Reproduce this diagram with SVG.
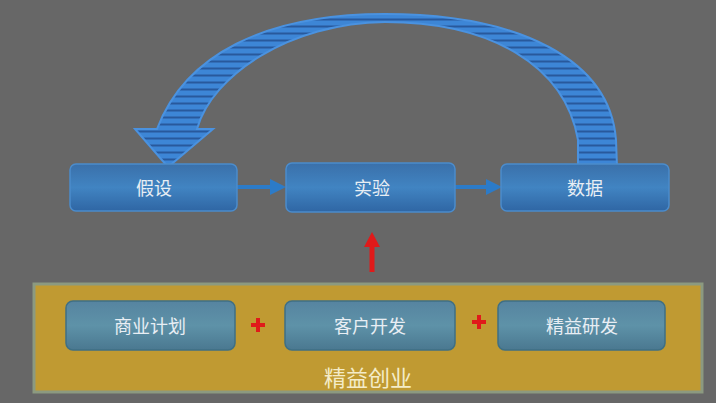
<svg xmlns="http://www.w3.org/2000/svg" width="716" height="403" viewBox="0 0 716 403">
<defs>
<style>
.t{font-family:"Noto Sans CJK SC","Noto Sans",sans-serif;font-size:18px;fill:#e8eef4;text-anchor:middle;dominant-baseline:central}
.top{fill:url(#gTop);stroke:#4b8ccc;stroke-width:1.5}
.bot{fill:url(#gBot);stroke:#3f6f84;stroke-width:1.5}
.plus{stroke:#e01a1a;stroke-width:4;fill:none}
.conn{stroke:#2c7bc8;stroke-width:4;fill:none}
</style>
<linearGradient id="gTop" x1="0" y1="0" x2="0" y2="1">
<stop offset="0" stop-color="#3a70aa"/>
<stop offset="0.5" stop-color="#4184c2"/>
<stop offset="1" stop-color="#2f66a4"/>
</linearGradient>
<linearGradient id="gBot" x1="0" y1="0" x2="0" y2="1">
<stop offset="0" stop-color="#5684a0"/>
<stop offset="0.5" stop-color="#5e92a8"/>
<stop offset="1" stop-color="#4a7890"/>
</linearGradient>
<pattern id="stripes" width="8" height="7" patternUnits="userSpaceOnUse">
<rect width="8" height="7" fill="#3d86d6"/>
<rect y="4.5" width="8" height="2" fill="#28599c"/>
</pattern>
<marker id="ah" markerWidth="4" markerHeight="4" refX="2" refY="2" orient="auto" markerUnits="strokeWidth">
<path d="M0,0 L4,2 L0,4 Z" fill="#2c7bc8"/>
</marker>
</defs>
<rect width="716" height="403" fill="#676767"/>

<g id="connectors">
<path id="loop" d="M617 167 L616 140 C610 60 520 14 385 14 C265 14 185 55 157 129 L135 129 L168 167 L213 129 L197 129 C212 75 290 23 385 22 C490 22 565 65 578 140 L578 167 Z" fill="url(#stripes)" stroke="#4a92e0" stroke-width="2"/>
<line class="conn" x1="237" y1="187" x2="278" y2="187" marker-end="url(#ah)"/>
<line class="conn" x1="455" y1="187" x2="494" y2="187" marker-end="url(#ah)"/>
<g id="redArrow">
<rect x="369.5" y="245" width="5" height="27" fill="#e01a1a"/>
<path d="M364 247 L372 232 L380 247 Z" fill="#e01a1a"/>
</g>
</g>

<g id="n-jiashe"><rect class="top" x="70" y="164" width="167" height="47" rx="6"/><text class="t" x="154" y="187">假设</text></g>
<g id="n-shiyan"><rect class="top" x="286" y="163" width="169" height="49" rx="6"/><text class="t" x="372" y="187">实验</text></g>
<g id="n-shuju"><rect class="top" x="501" y="164" width="168" height="47" rx="6"/><text class="t" x="585" y="187">数据</text></g>

<g id="panel">
<rect x="34" y="284" width="668" height="108" fill="#c09a32" stroke="#8c9a80" stroke-width="3"/>
<text x="368" y="376" font-family="'Noto Sans CJK SC','Noto Sans',sans-serif" font-size="22" fill="#f4ecc8" text-anchor="middle" dominant-baseline="central">精益创业</text>
</g>
<g id="n-shangye"><rect class="bot" x="66" y="301" width="169" height="49" rx="7"/><text class="t" x="150" y="325">商业计划</text></g>
<g id="n-kehu"><rect class="bot" x="285" y="301" width="170" height="49" rx="7"/><text class="t" x="370" y="325">客户开发</text></g>
<g id="n-jingyi"><rect class="bot" x="498" y="301" width="167" height="49" rx="7"/><text class="t" x="582" y="325">精益研发</text></g>

<g id="plus1"><path class="plus" d="M251 325 H265 M258 318 V332"/></g>
<g id="plus2"><path class="plus" d="M472 322 H486 M479 315 V329"/></g>
</svg>
